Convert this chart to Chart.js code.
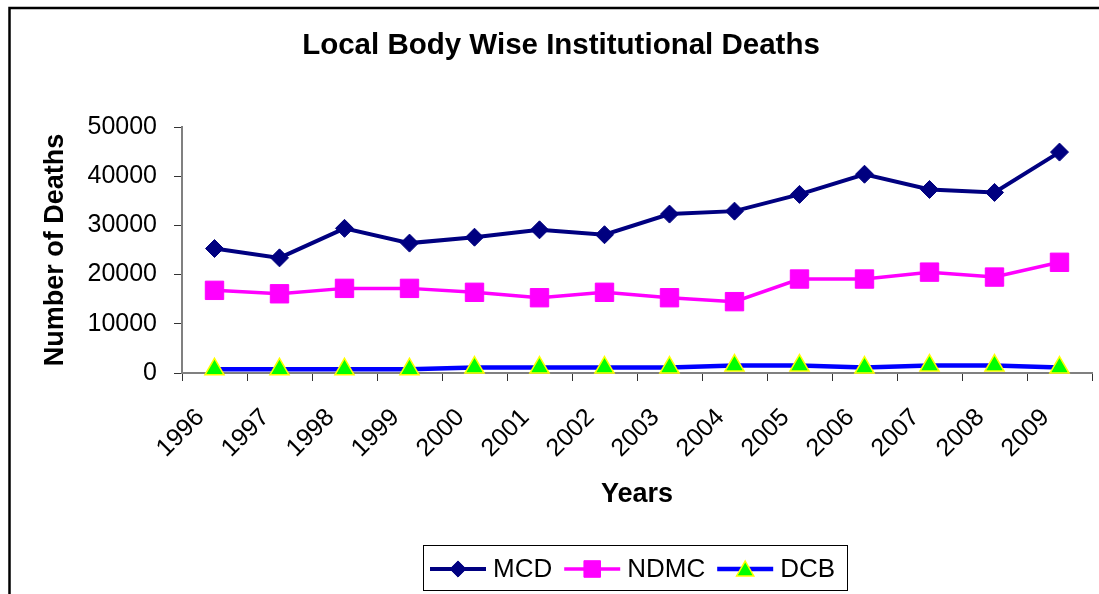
<!DOCTYPE html>
<html><head><meta charset="utf-8">
<script src="https://cdn.jsdelivr.net/npm/chart.js@4.4.1/dist/chart.umd.min.js"></script>
<style>html,body{margin:0;padding:0;background:#fff;overflow:hidden}canvas{display:block}</style>
</head><body>
<canvas id="c" width="1099" height="594"></canvas>
<script>
const chartTitle = 'Local Body Wise Institutional Deaths';
const xTitle = 'Years';
const yTitle = 'Number of Deaths';
const years = ['1996','1997','1998','1999','2000','2001','2002','2003','2004','2005','2006','2007','2008','2009'];
const mcd  = [25300, 23400, 29400, 26400, 27600, 29100, 28100, 32300, 32900, 36300, 40400, 37300, 36700, 44900];
const ndmc = [16800, 16100, 17200, 17200, 16400, 15300, 16400, 15300, 14500, 19100, 19100, 20500, 19500, 22500];
const dcb  = [750, 750, 750, 750, 1100, 1100, 1100, 1100, 1500, 1500, 1100, 1500, 1500, 1100];
const yMin = 0, yMax = 50000, yStep = 10000;

const FAM = '"Liberation Sans", Arial, Helvetica, sans-serif';

function drawMarker(ctx, style, x, y, r, fill, stroke, bw) {
  ctx.save();
  ctx.beginPath();
  if (style === 'rectRot') {
    ctx.moveTo(x, y - r); ctx.lineTo(x + r, y); ctx.lineTo(x, y + r); ctx.lineTo(x - r, y); ctx.closePath();
  } else if (style === 'rect') {
    const s = r * Math.SQRT1_2; ctx.rect(x - s, y - s, 2 * s, 2 * s);
  } else {
    const a = 2 * Math.PI / 3;
    ctx.moveTo(x, y - r);
    ctx.lineTo(x + Math.sin(a) * r, y - Math.cos(a) * r);
    ctx.lineTo(x + Math.sin(2 * a) * r, y - Math.cos(2 * a) * r);
    ctx.closePath();
  }
  ctx.fillStyle = fill; ctx.fill();
  if (bw > 0) { ctx.lineWidth = bw; ctx.strokeStyle = stroke; ctx.stroke(); }
  ctx.restore();
}

const decor = {
  id: 'decor',
  afterDraw(chart) {
    const ctx = chart.ctx;
    ctx.save();
    // outer frame
    ctx.strokeStyle = '#000'; ctx.lineWidth = 2.5;
    ctx.strokeRect(9.5, 8, 1300, 800);
    // title
    ctx.fillStyle = '#000';
    ctx.font = 'bold 29.5px ' + FAM;
    ctx.textAlign = 'center'; ctx.textBaseline = 'middle';
    ctx.fillText(chartTitle, 561, 46);
    // legend
    const lx = 423.5, ly = 545.5, lw = 424, lh = 45;
    ctx.lineWidth = 1; ctx.strokeStyle = '#000';
    ctx.strokeRect(lx, ly, lw, lh);
    ctx.font = '26px ' + FAM;
    ctx.textAlign = 'left';
    let x = 430; const cy = 569;
    chart.data.datasets.forEach(ds => {
      ctx.beginPath(); ctx.strokeStyle = ds.borderColor; ctx.lineWidth = ds.borderWidth;
      ctx.moveTo(x, cy); ctx.lineTo(x + 56, cy); ctx.stroke();
      drawMarker(ctx, ds.pointStyle, x + 28, cy + (ds.pointStyle === 'triangle' ? 2 : 0), ds.pointRadius * 0.9,
        ds.pointBackgroundColor, ds.pointBorderColor, ds.pointBorderWidth);
      ctx.fillStyle = '#000';
      ctx.fillText(ds.label, x + 63, cy + 1);
      x += 63 + ctx.measureText(ds.label).width + 12;
    });
    ctx.restore();
  }
};

new Chart(document.getElementById('c'), {
  type: 'line',
  data: {
    labels: years,
    datasets: [
      { label: 'MCD', data: mcd, borderColor: '#000080', backgroundColor: '#000080', borderWidth: 4,
        pointStyle: 'rectRot', pointRadius: 9, pointBackgroundColor: '#000080', pointBorderColor: '#000080', pointBorderWidth: 1, tension: 0, clip: false },
      { label: 'NDMC', data: ndmc, borderColor: '#FF00FF', backgroundColor: '#FF00FF', borderWidth: 3.5,
        pointStyle: 'rect', pointRadius: 13, pointBackgroundColor: '#FF00FF', pointBorderColor: '#FF00FF', pointBorderWidth: 1, tension: 0, clip: false },
      { label: 'DCB', data: dcb, borderColor: '#0000FF', backgroundColor: '#00FF00', borderWidth: 4.5,
        pointStyle: 'triangle', pointRadius: 11, pointBackgroundColor: '#00FF00', pointBorderColor: '#FFFF00', pointBorderWidth: 1.5, tension: 0, clip: false }
    ]
  },
  options: {
    responsive: false, animation: false, devicePixelRatio: 1,
    layout: { autoPadding: false, padding: { top: 127, right: 7, bottom: 83, left: 0 } },
    plugins: { legend: { display: false }, title: { display: false }, tooltip: { enabled: false } },
    scales: {
      x: {
        offset: true,
        grid: { offset: true, drawOnChartArea: false, tickLength: 8, color: '#333', lineWidth: 1 },
        border: { color: '#808080', width: 2 },
        ticks: { font: { family: FAM, size: 25 }, color: '#000', minRotation: 45, maxRotation: 45, padding: 22, labelOffset: -14, autoSkip: false },
        title: { display: true, text: xTitle, color: '#000', font: { family: FAM, size: 27, weight: 'bold' }, padding: { top: 0, bottom: 0 } },
        afterFit(s) { s.height = 138; s.paddingRight = 0; }
      },
      y: {
        min: yMin, max: yMax,
        grid: { drawOnChartArea: false, tickLength: 8, color: '#333', lineWidth: 1 },
        border: { color: '#808080', width: 2 },
        ticks: { stepSize: yStep, font: { family: FAM, size: 25 }, color: '#000', padding: 17, callback: v => String(v) },
        title: { display: true, text: yTitle, color: '#000', font: { family: FAM, size: 27, weight: 'bold' }, padding: { top: 39, bottom: 0 } },
        afterFit(s) { s.width = 182; }
      }
    }
  },
  plugins: [decor]
});
</script>
</body></html>
